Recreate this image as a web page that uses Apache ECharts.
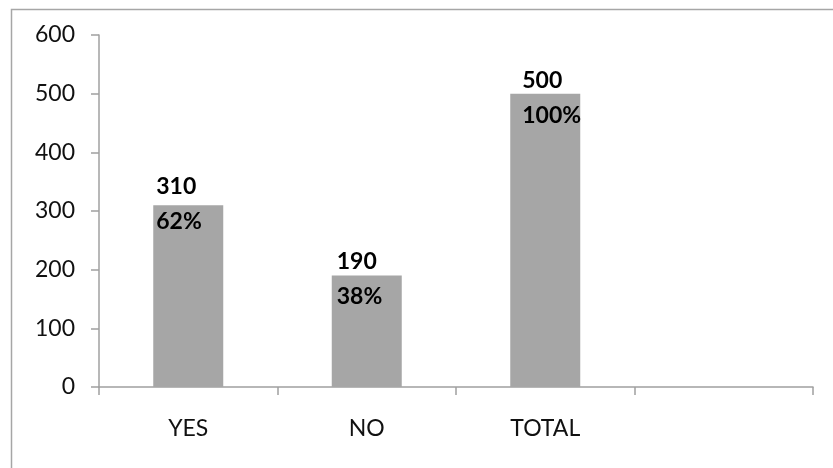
<!DOCTYPE html>
<html>
<head>
<meta charset="utf-8">
<script src="https://cdn.jsdelivr.net/npm/echarts@6/dist/echarts.min.js"></script>
<style>
  html, body { margin: 0; padding: 0; background: #ffffff; }
  #chart { width: 833px; height: 468px; }
</style>
</head>
<body>
<div id="chart"></div>
<script>
// Survey answers: counts per answer and their share of the total
const categories = ['YES', 'NO', 'TOTAL', ''];
const counts = [310, 190, 500];
const percents = [62, 38, 100];
const yTicks = { min: 0, max: 600, step: 100 };

const FONT = 'Lato';

// small per-bar nudges for the two-line value labels
const labelNudge = [[3, -36], [5, -31], [12, -31]];

const barData = counts.map((v, i) => ({
  value: v,
  label: {
    show: true,
    position: labelNudge[i],
    formatter: '{n|' + v + '}\n{p|' + percents[i] + '%}'
  }
}));

const chart = echarts.init(document.getElementById('chart'), null, { renderer: 'canvas' });

chart.setOption({
  animation: false,
  backgroundColor: '#ffffff',
  graphic: [{
    type: 'rect',
    left: 9, top: 7,
    shape: { width: 900, height: 600 },
    style: { fill: 'none', stroke: '#a6a6a6', lineWidth: 1.5 },
    silent: true
  }],
  grid: { left: 99, right: 20, top: 35, bottom: 81 },
  xAxis: {
    type: 'category',
    data: categories,
    boundaryGap: true,
    axisLine: { lineStyle: { color: '#a0a0a0', width: 1.5 } },
    axisTick: { show: true, length: 8, alignWithLabel: false, lineStyle: { color: '#a0a0a0', width: 1.5 } },
    axisLabel: { color: '#111', fontFamily: FONT, fontSize: 23, margin: 30 },
    splitLine: { show: false }
  },
  yAxis: {
    type: 'value',
    min: yTicks.min, max: yTicks.max, interval: yTicks.step,
    axisLine: { show: true, lineStyle: { color: '#a0a0a0', width: 1.5 } },
    axisTick: { show: true, length: 8, lineStyle: { color: '#a0a0a0', width: 1.5 } },
    axisLabel: { color: '#111', fontFamily: FONT, fontSize: 23, margin: 24 },
    splitLine: { show: false }
  },
  series: [{
    type: 'bar',
    data: barData,
    barWidth: 70,
    itemStyle: { color: '#a6a6a6' },
    label: {
      show: true,
      rich: {
        n: { fontFamily: FONT, fontWeight: 'bold', fontSize: 23, color: '#000', lineHeight: 35 },
        p: { fontFamily: FONT, fontWeight: 'bold', fontSize: 23, color: '#000', lineHeight: 35 }
      }
    }
  }]
});
</script>
</body>
</html>
